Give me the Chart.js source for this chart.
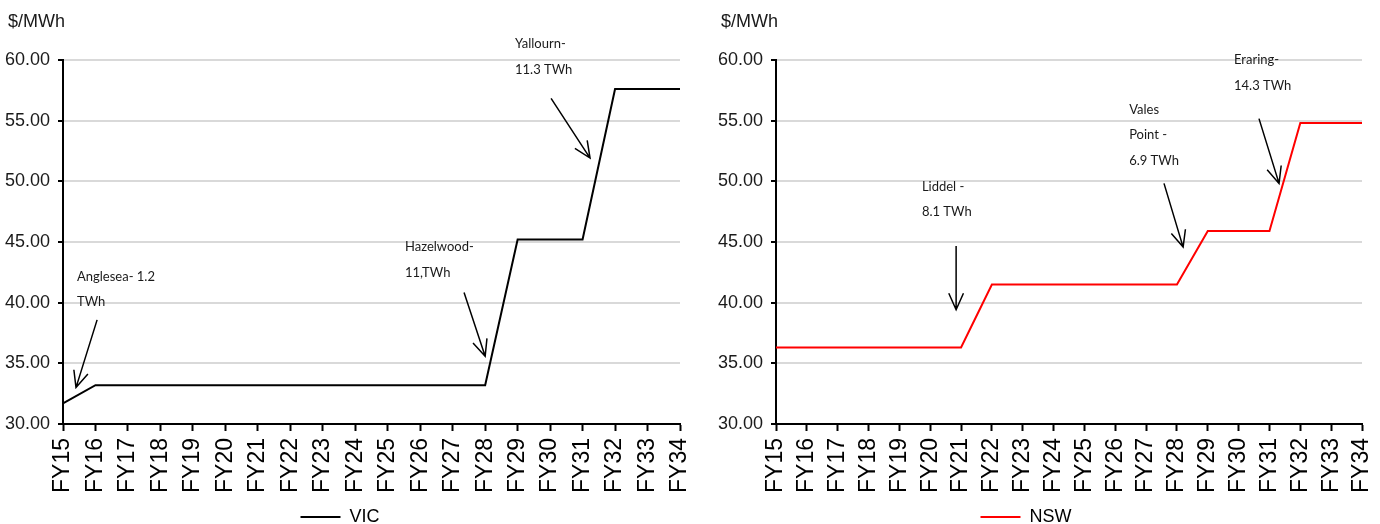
<!DOCTYPE html>
<html>
<head>
<meta charset="utf-8">
<script src="https://cdn.jsdelivr.net/npm/chart.js@4/dist/chart.umd.min.js"></script>
<style>
  html, body { margin: 0; padding: 0; background: #fff; }
  .row { display: flex; width: 1380px; height: 524px; }
  .panel { position: relative; width: 690px; height: 524px; }
</style>
</head>
<body>
<div class="row">
  <div class="panel"><canvas id="vicChart"></canvas></div>
  <div class="panel"><canvas id="nswChart"></canvas></div>
</div>
<script>
// Financial years on the horizontal axis
const fyLabels = ['FY15','FY16','FY17','FY18','FY19','FY20','FY21','FY22','FY23','FY24',
                  'FY25','FY26','FY27','FY28','FY29','FY30','FY31','FY32','FY33','FY34'];

// Wholesale price path, $/MWh
const vicPrice = [31.7, 33.2, 33.2, 33.2, 33.2, 33.2, 33.2, 33.2, 33.2, 33.2,
                  33.2, 33.2, 33.2, 33.2, 45.2, 45.2, 45.2, 57.6, 57.6, 57.6];
const nswPrice = [36.3, 36.3, 36.3, 36.3, 36.3, 36.3, 36.3, 41.5, 41.5, 41.5,
                  41.5, 41.5, 41.5, 41.5, 45.9, 45.9, 45.9, 54.8, 54.8, 54.8];

// Y axis range and step
const yTicks = { min: 30, max: 60, step: 5 };
const unitLabel = '$/MWh';

// Plant closure call-outs: text anchor and arrow in (category index, price) units
const vicNotes = [
  { lines: ['Anglesea- 1.2', 'TWh'], text: [0.43, 42.17], from: [1.05, 38.58], to: [0.40, 33.0] },
  { lines: ['Hazelwood-', '11,TWh'], text: [10.53, 44.58], from: [12.35, 40.83], to: [13.0, 35.58] },
  { lines: ['Yallourn-', '11.3 TWh'], text: [13.92, 61.33], from: [15.03, 56.83], to: [16.23, 51.92] }
];
const nswNotes = [
  { lines: ['Liddel -', '8.1 TWh'], text: [4.73, 49.58], from: [5.84, 44.67], to: [5.84, 39.42] },
  { lines: ['Vales', 'Point -', '6.9 TWh'], text: [11.45, 55.92], from: [12.58, 49.83], to: [13.2, 44.58] },
  { lines: ['Eraring-', '14.3 TWh'], text: [14.85, 60.0], from: [15.66, 55.17], to: [16.31, 49.83] }
];

const regular = "'Liberation Sans', Arial, sans-serif";

// Draws the unit caption and the closure call-outs with arrows
const plantNotes = {
  id: 'plantNotes',
  afterDatasetsDraw(chart, args, opts) {
    const { ctx, chartArea, scales } = chart;
    const xs = scales.x, ys = scales.y;
    ctx.save();
    ctx.fillStyle = '#1a1a1a';
    ctx.font = "18px " + regular;
    ctx.textAlign = 'left';
    ctx.textBaseline = 'middle';
    ctx.fillText(unitLabel, chartArea.left - 55, 22);

    ctx.font = "13px Lato, 'Open Sans', sans-serif";
    ctx.strokeStyle = '#000';
    ctx.lineWidth = 1.5;
    (opts.items || []).forEach(n => {
      const tx = xs.getPixelForValue(n.text[0]);
      const ty = ys.getPixelForValue(n.text[1]);
      n.lines.forEach((t, i) => ctx.fillText(t, tx, ty + i * 25.5));
      const x1 = xs.getPixelForValue(n.from[0]), y1 = ys.getPixelForValue(n.from[1]);
      const x2 = xs.getPixelForValue(n.to[0]), y2 = ys.getPixelForValue(n.to[1]);
      const a = Math.atan2(y1 - y2, x1 - x2), L = 18, s = 0.42;
      ctx.beginPath();
      ctx.moveTo(x1, y1);
      ctx.lineTo(x2, y2);
      ctx.moveTo(x2 + L * Math.cos(a + s), y2 + L * Math.sin(a + s));
      ctx.lineTo(x2, y2);
      ctx.lineTo(x2 + L * Math.cos(a - s), y2 + L * Math.sin(a - s));
      ctx.stroke();
    });
    ctx.restore();
  }
};

function makeChart(id, name, values, color, notes, axisWidth, padRight) {
  return new Chart(document.getElementById(id), {
    type: 'line',
    data: {
      labels: fyLabels,
      datasets: [{
        label: name,
        data: values,
        borderColor: color,
        backgroundColor: color,
        borderWidth: 2,
        pointRadius: 0,
        tension: 0,
        fill: false
      }]
    },
    options: {
      responsive: true,
      maintainAspectRatio: false,
      animation: false,
      events: [],
      layout: { padding: { top: 60, right: padRight, left: 0, bottom: -12 } },
      scales: {
        x: {
          offset: false,
          afterFit(scale) { scale.height = 78; scale.paddingLeft = 0; scale.paddingRight = 0; },
          grid: { display: true, drawOnChartArea: false, tickLength: 7, tickColor: '#000', tickWidth: 2 },
          border: { display: true, color: '#000', width: 2 },
          ticks: {
            minRotation: 90, maxRotation: 90, autoSkip: false, padding: 7,
            color: '#000', font: { family: regular, size: 23 }
          }
        },
        y: {
          min: yTicks.min, max: yTicks.max,
          afterFit(scale) { scale.width = axisWidth; },
          grid: { color: '#d9d9d9', lineWidth: 2, tickLength: 5, tickColor: '#000', tickWidth: 2 },
          border: { display: true, color: '#000', width: 2 },
          ticks: {
            stepSize: yTicks.step, padding: 8, color: '#1a1a1a',
            font: { family: regular, size: 18 },
            callback: v => Number(v).toFixed(2)
          }
        }
      },
      plugins: {
        legend: {
          position: 'bottom',
          labels: {
            usePointStyle: true,
            pointStyle: 'line',
            pointStyleWidth: 40,
            boxHeight: 2,
            color: '#000',
            padding: 6,
            font: { family: regular, size: 18 }
          }
        },
        tooltip: { enabled: false },
        plantNotes: { items: notes }
      }
    },
    plugins: [plantNotes]
  });
}

makeChart('vicChart', 'VIC', vicPrice, '#000000', vicNotes, 63, 10);
makeChart('nswChart', 'NSW', nswPrice, '#ff0000', nswNotes, 86, 18);
</script>
</body>
</html>
